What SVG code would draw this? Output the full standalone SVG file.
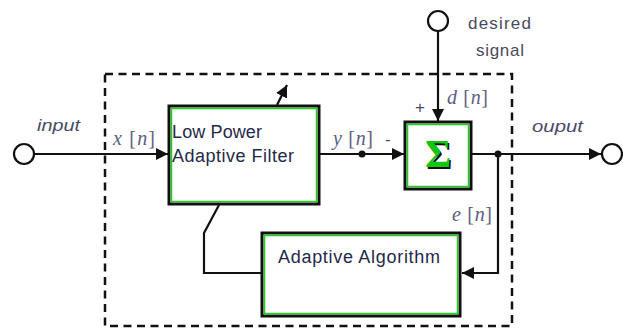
<svg xmlns="http://www.w3.org/2000/svg" width="623" height="329" viewBox="0 0 623 329">
<style>
.outer{fill:#fff;stroke:#111;stroke-width:3}
.inner{fill:none;stroke:#1fd01f;stroke-width:1.5}
.wire{fill:none;stroke:#111;stroke-width:2.2}
.term{fill:#fff;stroke:#111;stroke-width:2.2}
.lbl{font-family:"Liberation Sans",Arial,sans-serif;font-size:18px;fill:#1f2a48}
.it{font-family:"Liberation Sans",Arial,sans-serif;font-size:17px;font-style:italic;fill:#4a4a66}
.sig{font-family:"Liberation Sans",Arial,sans-serif;font-size:17px;fill:#4a4a5e}
.math{font-family:"Liberation Serif","Times New Roman",serif;font-size:20px;fill:#5a6080}
.v{font-style:italic}
</style>
<defs>
<marker id="ah" viewBox="0 0 10 10" refX="10" refY="5" markerWidth="5.5" markerHeight="5.5" orient="auto" markerUnits="strokeWidth">
<path d="M0,0 L10,5 L0,10 z" fill="#111"/>
</marker>
</defs>
<rect x="105" y="74" width="407" height="252" fill="none" stroke="#111" stroke-width="2.5" stroke-dasharray="8,5.5"/>
<g id="connectors">
<line class="wire" x1="34" y1="154" x2="168" y2="154" marker-end="url(#ah)"/>
<line class="wire" x1="320" y1="154" x2="404" y2="154" marker-end="url(#ah)"/>
<circle cx="362" cy="154" r="3.5" fill="#111"/>
<line class="wire" x1="438" y1="31" x2="438" y2="121" marker-end="url(#ah)"/>
<line class="wire" x1="472" y1="154" x2="601" y2="154" marker-end="url(#ah)"/>
<circle cx="498" cy="154" r="3.5" fill="#111"/>
<polyline class="wire" points="498,154 498,273 462,273" marker-end="url(#ah)"/>
<polyline class="wire" points="261,273 204,273 204,233 219,205"/>
<line class="wire" x1="277" y1="105" x2="287" y2="85" marker-end="url(#ah)"/>
</g>
<g id="input">
<circle class="term" cx="24" cy="154" r="10"/>
<text class="it" x="37" y="131" textLength="43" lengthAdjust="spacingAndGlyphs">input</text>
<text class="math" x="113" y="145" textLength="42"><tspan class="v">x</tspan> [<tspan class="v">n</tspan>]</text>
</g>
<g id="desired">
<circle class="term" cx="438" cy="21" r="10"/>
<text class="sig" x="468" y="29" textLength="63">desired</text>
<text class="sig" x="476" y="56" textLength="48">signal</text>
<text class="math" x="447" y="104" textLength="41"><tspan class="v">d</tspan> [<tspan class="v">n</tspan>]</text>
<text class="sig" x="415" y="113" font-size="16">+</text>
</g>
<g id="output">
<circle class="term" cx="612" cy="154" r="10"/>
<text class="it" x="532" y="132" textLength="51" lengthAdjust="spacingAndGlyphs">ouput</text>
</g>
<g id="filter">
<rect class="outer" x="169" y="106" width="150" height="98"/>
<rect class="inner" x="171.5" y="108.5" width="145" height="93"/>
<text class="lbl" x="172" y="138" textLength="90">Low Power</text>
<text class="lbl" x="172" y="162" textLength="122">Adaptive Filter</text>
<text class="math" x="333" y="145" textLength="40"><tspan class="v">y</tspan> [<tspan class="v">n</tspan>]</text>
<text class="sig" x="385" y="145">-</text>
</g>
<g id="sum">
<rect class="outer" x="405" y="122" width="66" height="67"/>
<rect class="inner" x="407.5" y="124.5" width="61" height="62"/>
<text x="439.5" y="168.5" text-anchor="middle" font-family="'Liberation Serif','Times New Roman',serif" font-weight="bold" font-size="40" fill="#111">Σ</text>
<text x="438" y="167" text-anchor="middle" font-family="'Liberation Serif','Times New Roman',serif" font-weight="bold" font-size="40" fill="#10c810">Σ</text>
</g>
<g id="algorithm">
<rect class="outer" x="262" y="233" width="198" height="83"/>
<rect class="inner" x="264.5" y="235.5" width="193" height="78"/>
<text class="lbl" x="278" y="263" textLength="162">Adaptive Algorithm</text>
<text class="math" x="452" y="221" textLength="40"><tspan class="v">e</tspan> [<tspan class="v">n</tspan>]</text>
</g>
</svg>
